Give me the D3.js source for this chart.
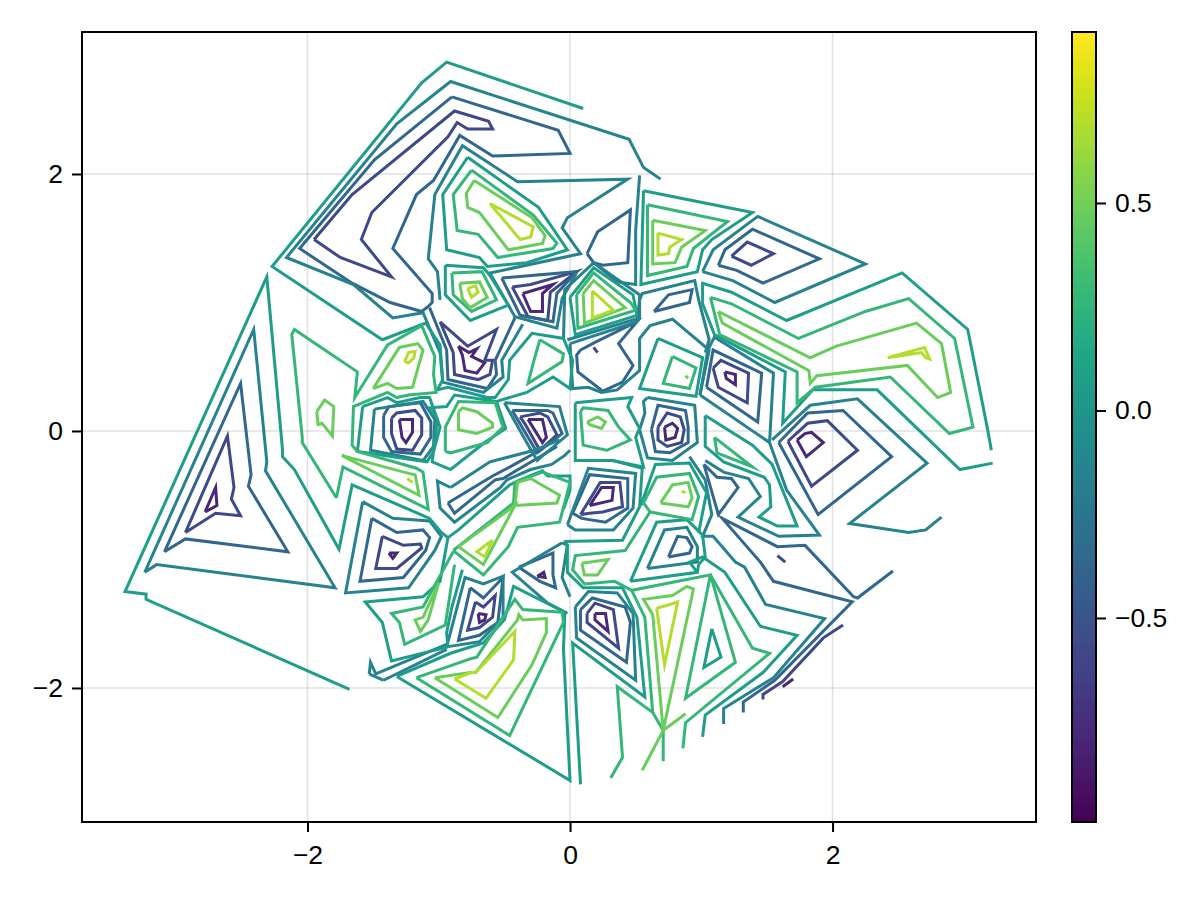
<!DOCTYPE html>
<html>
<head>
<meta charset="utf-8">
<script src="https://cdn.jsdelivr.net/npm/d3@7"></script>
<style>
  body { margin: 0; background: #fff; }
  text { font-family: "Liberation Sans", sans-serif; }
</style>
</head>
<body>
<div class="canvas"></div>
<script>
const levels = [-0.78, -0.57, -0.36, -0.15, 0.06, 0.27, 0.48, 0.69];
const xTicks = [-2, 0, 2];
const yTicks = [-2, 0, 2];
const barTicks = [-0.5, 0, 0.5];
const xDomain = [-3.718, 3.55];
const yDomain = [-3.043, 3.105];
const barDomain = [-0.9916, 0.912];

// one array per contour level, each holds polylines of [x, y]
const level1 = [
  [[-2.78,-.63],[-2.69,-.58],[-2.70,-.44],[-2.78,-.63]],
  [[-.85,.66],[-.77,.61],[-.71,.64],[-.75,.58],[-.65,.53],[-.71,.45],[-.80,.47],[-.82,.59],[-.85,.66]],
  [[-1.30,.09],[-1.20,.09],[-1.20,-.01],[-1.25,-.09],[-1.28,-.05],[-1.30,.09]],
  [[-.36,1.07],[-.13,1.14],[-.21,1.07],[-.21,.93],[-.30,.93],[-.36,1.07]],
  [[-.32,.09],[-.21,.09],[-.18,-.05],[-.21,-.09],[-.32,.09]],
  [[.72,.03],[.78,.06],[.82,.02],[.80,-.05],[.73,-.07],[.72,.03]],
  [[1.18,.46],[1.26,.44],[1.26,.36],[1.19,.41],[1.18,.46]],
  [[1.73,-.07],[1.79,-.02],[1.84,-.01],[1.93,-.09],[1.80,-.20],[1.73,-.07]],
  [[.15,-.58],[.24,-.44],[.33,-.44],[.32,-.54],[.15,-.58]],
  [[.19,-1.42],[.27,-1.42],[.29,-1.56],[.19,-1.47],[.19,-1.42]],
  [[-1.38,-.95],[-1.32,-.95],[-1.35,-.99],[-1.38,-.95]],
  [[-.25,-1.13],[-.20,-1.10],[-.19,-1.14],[-.25,-1.13]],
  [[-.70,-1.42],[-.64,-1.43],[-.65,-1.47],[-.69,-1.49],[-.70,-1.42]],
  [[1.62,-1.99],[1.70,-1.93]]
];
const level2 = [
  [[-2.93,-.79],[-2.70,-.64],[-2.51,-.66],[-2.58,-.53],[-2.56,-.44],[-2.61,-.04],[-2.93,-.79]],
  [[-1.95,1.49],[-1.66,1.84],[-.88,2.49],[-.62,2.41],[-.59,2.35],[-.78,2.35],[-.86,2.40],[-.93,2.29],[-1.51,1.70],[-1.59,1.49],[-1.36,1.20],[-1.75,1.35],[-1.95,1.49]],
  [[-.99,.85],[-.78,.66],[-.56,.79],[-.65,.55],[-.59,.55],[-.61,.44],[-.70,.40],[-.88,.44],[-.89,.61],[-.99,.85]],
  [[-1.36,.10],[-1.32,.14],[-1.18,.16],[-1.13,.10],[-1.13,-.03],[-1.20,-.15],[-1.32,-.14],[-1.36,-.02],[-1.36,.10]],
  [[-.44,1.12],[-.32,.89],[-.17,.86],[-.15,1.08],[.05,1.24],[-.30,1.14],[-.44,1.12]],
  [[-.38,.11],[-.23,.14],[-.17,.11],[-.10,-.03],[-.23,-.15],[-.34,.05],[-.38,.11]],
  [[.67,.03],[.74,.14],[.84,.11],[.87,.01],[.85,-.09],[.74,-.12],[.67,-.07],[.67,.03]],
  [[1.09,.49],[1.15,.55],[1.36,.45],[1.35,.22],[1.13,.34],[1.09,.49]],
  [[1.23,1.36],[1.35,1.47],[1.55,1.38],[1.38,1.29],[1.23,1.36]],
  [[1.66,-.08],[1.81,.06],[1.96,.08],[2.19,-.15],[1.84,-.43],[1.66,-.08]],
  [[.08,-.65],[.23,-.40],[.38,-.40],[.40,-.59],[.25,-.63],[.15,-.64],[.08,-.65]],
  [[.13,-1.42],[.19,-1.34],[.33,-1.39],[.37,-1.69],[.13,-1.49],[.13,-1.42]],
  [[-1.43,-.82],[-1.27,-.89],[-1.14,-.88],[-1.13,-.91],[-1.32,-1.07],[-1.48,-1.07],[-1.43,-.82]],
  [[-.72,-1.33],[-.66,-1.37],[-.57,-1.28],[-.59,-1.45],[-.69,-1.53],[-.78,-1.55],[-.72,-1.33]],
  [[1.47,-2.09],[1.47,-2.05],[1.62,-1.95],[1.93,-1.61],[2.08,-1.51]],
  [[1.58,-.97],[1.64,-1.02]],
  [[.18,.65],[.21,.61]]
];
const level3 = [
  [[-3.09,-.94],[-2.93,-.84],[-2.15,-.94],[-2.45,-.43],[-2.43,-.34],[-2.51,.37],[-3.09,-.94]],
  [[-.90,2.60],[-1.49,2.11],[-2.06,1.42],[-1.66,1.15],[-1.37,1.00],[-1.13,.93],[-1.08,.97],[-1.05,1.00],[-1.05,1.07],[-1.35,1.42],[-1.17,1.84],[-1.04,1.95],[-.84,2.30],[-.59,2.14],[0,2.16],[-.09,2.34],[-.90,2.60]],
  [[-.52,1.19],[-.38,.90],[-.13,.85],[-.10,1.07],[.05,1.24],[-.52,1.19]],
  [[-1.07,.96],[-.94,.63],[-.93,.40],[-.63,.33],[-.56,.44],[-.57,.55],[-.42,.88]],
  [[-1.42,.12],[-1.38,.19],[-1.14,.22],[-1.06,.07],[-1.06,-.05],[-1.14,-.18],[-1.36,-.16],[-1.42,-.05],[-1.42,.12]],
  [[-.44,.16],[-.17,.16],[-.13,.14],[-.06,-.02],[-.25,-.17],[-.44,.16]],
  [[-.93,-.56],[-.88,-.64],[-.57,-.38],[-.51,-.37],[-.23,-.20],[-.10,-.12]],
  [[-.93,-.56],[-.59,-.35],[-.44,-.27],[-.23,-.15]],
  [[.62,.01],[.67,.20],[.88,.16],[.90,.03],[.90,-.09],[.76,-.17],[.65,-.16],[.62,.01]],
  [[1.04,.34],[1.09,.63],[1.46,.45],[1.43,.07],[1.04,.34]],
  [[1.13,1.29],[1.18,1.41],[1.39,1.57],[1.90,1.34],[1.47,1.15],[1.27,1.25],[1.13,1.29]],
  [[1.59,-.09],[1.81,.14],[2.08,.16],[2.45,-.20],[1.89,-.65],[1.59,-.09]],
  [[.13,1.38],[.21,1.55],[.46,1.72],[.44,1.31],[.25,1.29],[.18,1.31],[.13,1.38]],
  [[.64,.93],[.75,1.06],[.93,1.10],[.91,1.00],[.64,.93]],
  [[.08,.63],[.19,.69],[.51,.85],[.37,.68],[.48,.51],[.40,.38],[.25,.31],[.06,.46],[.05,.59],[.08,.63]],
  [[.02,-.64],[.15,-.34],[.44,-.37],[.44,-.60],[.27,-.71],[.09,-.68],[.02,-.64]],
  [[.08,-1.39],[.17,-1.30],[.42,-1.37],[.46,-1.49],[.43,-1.80],[.08,-1.55],[.08,-1.39]],
  [[.75,-.98],[.82,-.82],[.89,-.83],[.93,-.90],[.91,-.95],[.75,-.98]],
  [[1.02,-.26],[1.12,-.36],[1.23,-.37],[1.28,-.44],[1.13,-.65],[1.02,-.26]],
  [[1.32,-2.19],[1.32,-2.11],[1.56,-1.94],[2.15,-1.33],[1.55,-1.17],[1.45,-1.02],[1.16,-.68],[1.58,-.90],[1.79,-.89],[2.16,-1.29],[2.19,-1.30],[2.46,-1.09]],
  [[-1.51,-.68],[-1.32,-.79],[-1.12,-.77],[-1.07,-.83],[-1.10,-.93],[-1.27,-1.14],[-1.60,-1.17],[-1.51,-.68]],
  [[-.76,-1.22],[-.66,-1.30],[-.51,-1.14],[-.55,-1.49],[-.69,-1.59],[-.85,-1.63],[-.76,-1.22]],
  [[-.39,-1.06],[-.13,-.95],[-.13,-1.12],[-.11,-1.22],[-.23,-1.17],[-.39,-1.06]]
];
const level4 = [
  [[-3.24,-1.10],[-3.15,-1.04],[-1.79,-1.22],[-2.32,-.31],[-2.31,-.24],[-2.41,.79],[-3.24,-1.10]],
  [[.69,1.96],[.56,2.05],[.45,2.27],[-.91,2.72],[-1.32,2.39],[-2.16,1.35],[-1.65,1.14],[-1.35,.88],[-1.12,.92],[-.99,.61],[-.97,.38],[-.66,.30],[-.51,.42],[-.52,.55],[-.36,.83]],
  [[-.99,1.02],[-1.01,1.24],[-1.08,1.34],[-1.03,1.84],[-.82,2.22],[-.40,1.94],[.44,1.96],[-.02,1.66],[-.06,1.58],[.08,1.38],[-.61,1.23],[-.42,.89],[-.10,.80],[-.06,1.03],[.05,1.23]],
  [[-1.49,.17],[-1.12,.23],[-1.03,.09],[-1.04,-.12],[-1.12,-.23],[-1.52,-.15],[-1.49,.17]],
  [[-.50,.22],[-.08,.19],[-.02,-.03],[-.25,-.23],[-.33,-.09],[-.50,.22]],
  [[-.91,-.44],[-1.01,-.39],[-.99,-.60],[-.88,-.71],[-.53,-.44],[-.48,-.38],[-.30,-.30],[-.14,-.26],[-.04,-.19],[0,-.15]],
  [[-.91,-.44],[-.61,-.24],[-.27,-.15],[-.08,-.07]],
  [[.59,.26],[.95,.20],[.97,-.09],[.78,-.23],[.59,-.21],[.53,.01],[.57,.14],[.56,.23],[.59,.26]],
  [[.99,.28],[1.05,.63],[1.10,.73],[1.55,.45],[1.52,-.09],[.99,.28]],
  [[1.01,1.24],[1.09,1.41],[1.43,1.67],[2.25,1.30],[1.56,1.00],[1.24,1.17],[1.01,1.24]],
  [[2.83,-.67],[2.71,-.77],[2.58,-.79],[2.13,-.72],[2.72,-.25],[2.19,.25],[1.83,.20],[1.54,-.07]],
  [[1.52,-.09],[1.65,-.46],[1.90,-.81],[1.59,-.82],[1.28,-.67],[1.45,-.51],[1.36,-.37],[1.17,-.32],[1.03,-.23]],
  [[.91,-.20],[1.03,-.38],[1.08,-.65],[1.01,-.82],[1.09,-.82],[1.26,-1.02],[1.33,-1.06],[1.49,-1.35],[1.94,-1.46],[1.55,-1.92],[1.17,-2.16],[1.17,-2.28]],
  [[.51,.85],[.53,1.02],[.55,1.07],[.95,1.17],[.98,1.02],[1.06,.71],[1.03,.61]],
  [[0,.68],[.02,.33],[.14,.34],[.24,.30],[.36,.32],[.53,.47],[.53,.72],[.61,.82],[.78,.87],[1.06,.63],[.99,.28]],
  [[0,.68],[.51,.85]],
  [[.53,1.99],[.50,1.56],[.50,1.14],[.36,1.16],[.18,1.31],[-.04,1.10],[-.05,.71]],
  [[.18,1.31],[.53,1.06],[.53,.88],[-.02,.71]],
  [[-1.58,-.55],[-1.35,-.68],[-1.07,-.70],[-.98,-.82],[-1.03,-.93],[-1.23,-1.22],[-1.71,-1.26],[-1.58,-.55]],
  [[-1.53,-1.89],[-1.52,-1.80],[-1.48,-1.89],[-.94,-1.66]],
  [[-1.42,-1.94],[-1.53,-1.89]],
  [[-1.42,-1.94],[-.94,-1.70]],
  [[-.94,-1.68],[-.80,-1.14],[-.66,-1.19],[-.51,-1.13],[-.51,-1.45],[-.69,-1.64],[-.94,-1.68]],
  [[-.06,-.87],[-.44,-1.10],[-.17,-1.34],[-.02,-1.42]],
  [[-.06,-.87],[-.02,-.89],[-.06,-1.14],[0,-1.29]],
  [[-.02,-.73],[.14,-.29],[.50,-.33],[.48,-.60],[.33,-.77],[.04,-.77],[-.02,-.73]],
  [[.04,-1.37],[.14,-1.25],[.36,-1.26],[.48,-1.42],[.50,-1.94],[.05,-1.61],[.04,-1.37]],
  [[.59,-1.07],[.72,-.77],[.89,-.75],[.97,-.90],[.97,-1.02],[.59,-1.07]]
];
const level5 = [
  [[-1.68,-2.01],[-3.23,-1.31],[-3.23,-1.27],[-3.39,-1.25],[-2.31,1.20],[-2.19,-.15],[-2.19,-.20],[-2.10,-.30],[-1.76,-.92],[-1.66,-.42],[-1.07,-.68],[-.98,-.79],[-.93,-.83],[-.99,-1.17],[-1.12,-1.29],[-1.56,-1.33],[-1.43,-1.49],[-1.36,-1.79],[-.93,-1.68],[-.94,-1.57],[-.90,-1.37],[-.82,-1.08]],
  [[.10,2.51],[-.94,2.87],[-1.13,2.71],[-2.27,1.28],[-1.43,.71],[-1.10,.84],[-.99,.67],[-.97,.40],[-1.01,.32],[-.93,.34],[-.63,.26],[-.57,.26],[-.47,.40],[-.46,.55],[-.29,.76],[-.05,.72],[.02,.55],[0,.33],[-.13,.42],[-.33,.30],[-.56,.23],[-.49,.02],[-.65,-.09],[-.91,-.30],[-1.05,-.24],[-1.01,.09],[-1.07,.18],[-.94,.19],[-.88,.28],[-.56,.23]],
  [[-.78,2.13],[-.24,1.74],[-.02,1.41],[-.33,1.31],[-.63,1.28],[-.69,1.35],[-.94,1.41],[-.97,1.84],[-.78,2.13]],
  [[-.95,1.29],[-.66,1.27],[-.61,1.21],[-.47,.98],[-.76,.86],[-.95,1.06],[-.95,1.29]],
  [[-1.58,.19],[-1.39,.26],[-1.32,.22],[-1.14,.26],[-1.07,.26],[-.99,.03],[-1.04,-.16],[-1.09,-.24],[-1.62,-.16],[-1.58,.19]],
  [[0,1.04],[.18,1.27],[.48,1.06],[.51,.90],[.04,.75],[0,1.04]],
  [[.04,.22],[.47,.26],[.44,.19],[.53,.02],[.50,-.05],[.56,-.28],[.32,-.23],[.04,-.23],[.04,.22]],
  [[-.93,-.83],[-.85,-.77],[-.46,-.42],[-.38,-.38],[-.21,-.31],[-.17,-.35],[0,-.35],[0,-.46],[-.05,-.61]],
  [[-1.32,-1.91],[-.91,-1.73],[-.66,-1.65],[-.50,-1.47],[-.43,-1.21],[-.04,-1.41],[-.05,-1.70],[0,-2.72],[-1.32,-1.91]],
  [[.08,-2.75],[.02,-1.65],[.57,-2.07],[.51,-1.45],[.40,-1.22],[.10,-1.22],[-.02,-1.10],[-.02,-.90],[-.04,-.85]],
  [[-.04,-.86],[.40,-.85],[.53,-.59],[.55,-.29],[.33,-.23],[.09,-.23]],
  [[.54,-.58],[.65,-.26],[.91,-.25],[1.04,-.48],[.98,-.79]],
  [[.46,-1.17],[.66,-.71],[.89,-.69],[1.01,-.81],[1.03,-.98],[.98,-1.04],[.97,-1.10],[.46,-1.17]],
  [[.97,-1.10],[.91,-1.02],[1.01,-.98],[1.18,-1.10],[1.45,-1.52],[1.73,-1.59],[1.47,-1.88],[1.03,-2.21],[1.01,-2.38]],
  [[3.21,-.15],[3.18,.02],[3.03,.79],[2.53,1.23],[1.65,.86],[1.23,1.08],[1.01,1.15],[1.01,.99],[1.10,.75],[1.64,.46],[1.62,.06],[1.85,.32],[2.34,.32],[2.97,-.30],[3.22,-.25]],
  [[.56,1.87],[1.39,1.70],[1.08,1.49],[1.01,1.41],[.97,1.24],[.54,1.14],[.56,1.87]],
  [[.67,.72],[1.01,.57],[.96,.27],[.53,.33],[.67,.72]],
  [[1.03,.12],[1.39,-.11],[1.54,-.26],[1.73,-.74],[1.58,-.74],[1.44,-.67],[1.53,-.59],[1.52,-.42],[1.48,-.36],[1.17,-.24],[1.03,-.12],[1.03,.12]],
  [[1.08,-1.54],[1.15,-1.76],[1.02,-1.84],[1.08,-1.54]]
];
const level6 = [
  [[-1.78,-.52],[-1.73,-.28],[-1.08,-.61],[-1.12,-.32],[-1.17,-.29],[-1.62,-.16],[-1.66,-.11],[-1.65,.19],[-1.39,.30],[-1.32,.26],[-1.23,.28],[-1.02,.30],[-1.04,.44],[-1.03,.58],[-1.13,.82],[-1.39,.67],[-1.64,.26],[-1.62,.46],[-2.10,.79],[-2.12,.75],[-2.04,-.05],[-2.04,-.09],[-1.78,-.52]],
  [[-.75,2.03],[-.28,1.68],[-.10,1.46],[-.13,1.42],[-.55,1.35],[-.70,1.53],[-.86,1.56],[-.89,1.84],[-.75,2.03]],
  [[-.90,1.23],[-.67,1.24],[-.56,1.02],[-.75,.93],[-.89,1.06],[-.90,1.23]],
  [[-.23,.71],[-.05,.60],[-.06,.54],[-.32,.37],[-.28,.53],[-.23,.71]],
  [[-.95,-.16],[-.95,.03],[-.85,.23],[-.57,.22],[-.51,.03],[-.63,-.09],[-.91,-.17],[-.95,-.16]],
  [[-.89,-.93],[-.66,-1.12],[-.47,-.90],[-.40,-.75],[-.08,-.71],[0,-.40],[-.21,-.32],[-.42,-.40],[-.43,-.56],[-.89,-.93]],
  [[-.89,-.94],[-1.12,-1.37],[-1.36,-1.42],[-1.30,-1.49],[-1.26,-1.66],[-.95,-1.51],[-.92,-1.31],[-.88,-1.04]],
  [[-1.17,-1.92],[-.75,-1.77],[-.71,-1.76],[-.42,-1.31],[-.36,-1.39],[-.06,-1.41],[-.05,-1.49],[-.46,-2.37],[-1.17,-1.92]],
  [[.59,1.76],[1.20,1.63],[.94,1.42],[.89,1.28],[.59,1.21],[.59,1.76]],
  [[.05,1.06],[.18,1.23],[.46,1.00],[.50,.94],[.06,.80],[.05,1.06]],
  [[.78,.58],[.96,.49],[.91,.33],[.71,.37],[.78,.58]],
  [[.08,.15],[.10,.18],[.29,.16],[.37,.03],[.46,-.07],[.28,-.15],[.10,-.11],[.08,.15]],
  [[1.10,-.05],[1.39,-.28],[1.12,-.17],[1.10,-.05]],
  [[1.07,1.04],[1.23,.99],[1.74,.72],[2.25,.93],[2.58,1.03],[2.93,.72],[3.07,.03],[2.89,-.02],[2.44,.42],[1.87,.34],[1.73,.22],[1.73,.46],[1.14,.75],[1.07,1.04]],
  [[.61,-.63],[.56,-.56],[.66,-.36],[.91,-.33],[.98,-.51],[.93,-.69],[.61,-.63],[.42,-.93],[.04,-.97],[.02,-1.08],[.11,-1.19],[.34,-1.17],[.47,-1.24],[1.07,-1.12],[.88,-2.08],[1.26,-1.80],[1.07,-1.12]],
  [[.31,-2.70],[.40,-2.54],[.36,-1.99],[.63,-2.19],[.57,-1.45],[.47,-1.24]],
  [[.71,-2.57],[.71,-2.33],[.63,-2.19]],
  [[1.07,-1.12],[1.39,-1.69],[1.52,-1.73],[.88,-2.27],[.86,-2.47]]
];
const level7 = [
  [[-1.74,-.19],[-1.15,-.50],[-1.18,-.34],[-1.23,-.33],[-1.74,-.19]],
  [[-1.50,.33],[-1.39,.37],[-1.32,.33],[-1.20,.34],[-1.12,.63],[-1.16,.68],[-1.30,.65],[-1.50,.33]],
  [[-1.93,.15],[-1.87,.24],[-1.80,.19],[-1.81,-.04],[-1.89,.06],[-1.92,.05],[-1.93,.15]],
  [[-.73,1.95],[-.29,1.66],[-.19,1.52],[-.21,1.46],[-.47,1.41],[-.69,1.70],[-.78,1.74],[-.79,1.85],[-.73,1.95]],
  [[-.84,1.15],[-.69,1.16],[-.63,1.04],[-.76,.96],[-.82,1.03],[-.84,1.15]],
  [[-.85,.15],[-.82,.18],[-.71,.15],[-.59,.06],[-.59,.03],[-.71,-.02],[-.85,.01],[-.85,.15]],
  [[-.85,-.90],[-.42,-.58],[-.66,-1.04],[-.85,-.90]],
  [[-.42,-.58],[-.40,-.40],[-.30,-.37],[-.08,-.50],[-.10,-.56],[-.42,-.58]],
  [[-1.00,-1.18],[-1.08,-1.47],[-1.14,-1.56],[-1.18,-1.47],[-1.12,-1.45],[-1.00,-1.18]],
  [[-1.03,-1.92],[-.76,-1.88],[-.72,-1.88],[-.40,-1.47],[-.39,-1.43],[-.36,-1.47],[-.18,-1.46],[-.18,-1.57],[-.29,-1.82],[-.55,-2.23],[-1.03,-1.92]],
  [[.63,1.64],[1.03,1.56],[.85,1.43],[.80,1.31],[.63,1.30],[.63,1.64]],
  [[.10,1.07],[.18,1.17],[.42,.96],[.11,.84],[.10,1.07]],
  [[.13,.07],[.21,.11],[.27,.07],[.24,.02],[.15,.05],[.13,.07]],
  [[.69,-.56],[.78,-.42],[.90,-.40],[.93,-.52],[.90,-.59],[.69,-.56]],
  [[.09,-1.03],[.29,-1.00],[.21,-1.12],[.11,-1.12],[.09,-1.03]],
  [[.55,-2.64],[.71,-2.33],[.94,-1.23],[.89,-1.21],[.78,-1.28],[.56,-1.31],[.63,-1.43],[.71,-2.33],[.88,-2.20]],
  [[1.13,.93],[1.83,.57],[2.03,.66],[2.64,.84],[2.83,.68],[2.90,.30],[2.80,.26],[2.57,.51],[1.88,.43],[1.83,.37],[1.82,.47],[1.16,.84],[1.13,.93]],
  [[.88,.43],[.90,.41]]
];
const level8 = [
  [[-1.24,-.37],[-1.20,-.40]],
  [[-1.26,.54],[-1.23,.61],[-1.18,.62],[-1.19,.57],[-1.23,.53],[-1.26,.54]],
  [[-.61,1.77],[-.28,1.59],[-.30,1.51],[-.38,1.49],[-.61,1.77]],
  [[-.78,1.11],[-.72,1.13],[-.70,1.08],[-.75,1.04],[-.78,1.11]],
  [[.67,1.54],[.85,1.49],[.76,1.43],[.75,1.38],[.67,1.37],[.67,1.54]],
  [[.17,1.09],[.33,.94],[.17,.88],[.17,1.09]],
  [[-.59,-.85],[-.65,-.98],[-.71,-.94],[-.59,-.85]],
  [[-.88,-1.93],[-.75,-1.88],[-.72,-1.88],[-.42,-1.56],[-.43,-1.78],[-.64,-2.08],[-.88,-1.93]],
  [[.66,-1.38],[.76,-1.35],[.82,-1.33],[.72,-1.82],[.66,-1.38]],
  [[2.42,.57],[2.70,.65],[2.74,.56],[2.71,.57],[2.68,.61],[2.42,.57]],
  [[.85,-.47],[.88,-.48]]
];
const levelLines = [level1, level2, level3, level4, level5, level6, level7, level8];

const plot = { left: 82, right: 1036, top: 32, bottom: 822 };
const bar = { left: 1072, right: 1096 };

const svg = d3
  .select(".canvas")
  .append("svg")
  .attr("width", 1200)
  .attr("height", 900)
  .style("display", "block");

const x = d3.scaleLinear().domain(xDomain).range([plot.left, plot.right]);
const y = d3.scaleLinear().domain(yDomain).range([plot.bottom, plot.top]);
const barScale = d3.scaleLinear().domain(barDomain).range([plot.bottom, plot.top]);
const color = d3.scaleSequential(d3.interpolateViridis).domain(barDomain);

// grid
svg
  .append("g")
  .selectAll("line")
  .data(xTicks)
  .join("line")
  .attr("x1", (d) => x(d))
  .attr("x2", (d) => x(d))
  .attr("y1", plot.top)
  .attr("y2", plot.bottom)
  .attr("stroke", "#000")
  .attr("stroke-opacity", 0.12)
  .attr("stroke-width", 1.5);

svg
  .append("g")
  .selectAll("line")
  .data(yTicks)
  .join("line")
  .attr("x1", plot.left)
  .attr("x2", plot.right)
  .attr("y1", (d) => y(d))
  .attr("y2", (d) => y(d))
  .attr("stroke", "#000")
  .attr("stroke-opacity", 0.12)
  .attr("stroke-width", 1.5);

// contours
const line = d3
  .line()
  .x((d) => x(d[0]))
  .y((d) => y(d[1]));

levelLines.forEach((polys, i) => {
  svg
    .append("g")
    .selectAll("path")
    .data(polys)
    .join("path")
    .attr("d", line)
    .attr("fill", "none")
    .attr("stroke", color(levels[i]))
    .attr("stroke-width", 3)
    .attr("stroke-linejoin", "miter")
    .attr("stroke-miterlimit", 10);
});

// frame
svg
  .append("rect")
  .attr("x", plot.left)
  .attr("y", plot.top)
  .attr("width", plot.right - plot.left)
  .attr("height", plot.bottom - plot.top)
  .attr("fill", "none")
  .attr("stroke", "#000")
  .attr("stroke-width", 2);

// axes
const styleAxis = (g) => {
  g.select(".domain").remove();
  g.selectAll(".tick line").attr("stroke", "#000").attr("stroke-width", 2);
  g.selectAll("text").attr("fill", "#000").style("font-size", "26.5px");
};

svg
  .append("g")
  .attr("transform", `translate(0, ${plot.bottom})`)
  .call(d3.axisBottom(x).tickValues(xTicks).tickSize(10).tickPadding(13).tickFormat(d3.format("d")))
  .call(styleAxis);

svg
  .append("g")
  .attr("transform", `translate(${plot.left}, 0)`)
  .call(d3.axisLeft(y).tickValues(yTicks).tickSize(10).tickPadding(9).tickFormat(d3.format("d")))
  .call(styleAxis);

// colorbar
const barSteps = d3.range(0, 160);
const barStep = (barDomain[1] - barDomain[0]) / barSteps.length;

svg
  .append("g")
  .selectAll("rect")
  .data(barSteps)
  .join("rect")
  .attr("x", bar.left)
  .attr("width", bar.right - bar.left)
  .attr("y", (d) => barScale(barDomain[0] + (d + 1) * barStep) - 0.5)
  .attr("height", (d) => barScale(barDomain[0] + d * barStep) - barScale(barDomain[0] + (d + 1) * barStep) + 1)
  .attr("fill", (d) => color(barDomain[0] + (d + 0.5) * barStep));

svg
  .append("rect")
  .attr("x", bar.left)
  .attr("y", plot.top)
  .attr("width", bar.right - bar.left)
  .attr("height", plot.bottom - plot.top)
  .attr("fill", "none")
  .attr("stroke", "#000")
  .attr("stroke-width", 2);

svg
  .append("g")
  .attr("transform", `translate(${bar.right}, 0)`)
  .call(d3.axisRight(barScale).tickValues(barTicks).tickSize(10).tickPadding(9).tickFormat(d3.format(".1f")))
  .call(styleAxis);
</script>
</body>
</html>
